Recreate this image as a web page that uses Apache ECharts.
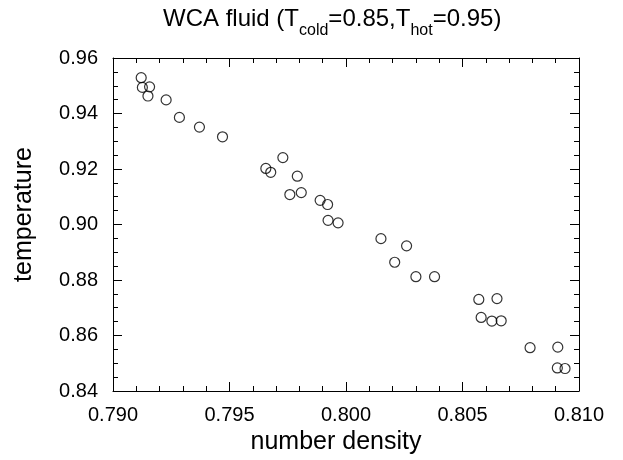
<!DOCTYPE html>
<html>
<head>
<meta charset="utf-8">
<script src="https://cdn.jsdelivr.net/npm/echarts@6/dist/echarts.min.js"></script>
<style>
html,body{margin:0;padding:0;background:#fff;}
#chart{width:623px;height:460px;}
</style>
</head>
<body>
<div id="chart"></div>
<script>
// number density (x) and temperature (y) of each point
const densityValues = [
  0.79121, 0.79126, 0.79157, 0.79150, 0.79228, 0.79285, 0.79371, 0.79470,
  0.79656, 0.79677, 0.79729, 0.79791, 0.79759, 0.79808, 0.79889, 0.79921,
  0.79923, 0.79966, 0.80150, 0.80260, 0.80209, 0.80300, 0.80380, 0.80570,
  0.80648, 0.80580, 0.80626, 0.80666, 0.80790, 0.80909, 0.80907, 0.80940
];
const temperatureValues = [
  0.9529, 0.9494, 0.9496, 0.9463, 0.9449, 0.9386, 0.9351, 0.9316,
  0.9202, 0.9188, 0.9241, 0.9174, 0.9108, 0.9115, 0.9087, 0.9072,
  0.9015, 0.9006, 0.8949, 0.8923, 0.8864, 0.8812, 0.8812, 0.8730,
  0.8733, 0.8665, 0.8652, 0.8653, 0.8556, 0.8558, 0.8483, 0.8481
];
const xTicks = [0.790, 0.795, 0.800, 0.805, 0.810];
const yTicks = [0.84, 0.86, 0.88, 0.90, 0.92, 0.94, 0.96];

const FONT = "'Liberation Sans', Arial, Helvetica, sans-serif";
const points = densityValues.map((x, i) => [x, temperatureValues[i]]);

const chart = echarts.init(document.getElementById('chart'), null, {renderer: 'canvas'});

function xAxisCfg(pos, labels) {
  return {
    type: 'value', position: pos,
    min: xTicks[0], max: xTicks[xTicks.length - 1], interval: 0.005,
    axisLine: {show: true, onZero: false, lineStyle: {color: '#000', width: 1}},
    axisTick: {show: true, inside: true, length: 9, lineStyle: {color: '#000'}},
    minorTick: {show: true, splitNumber: 5, length: 5, lineStyle: {color: '#000'}},
    splitLine: {show: false},
    axisLabel: {show: labels, margin: 14, color: '#000', fontSize: 20, fontFamily: FONT,
      formatter: v => v.toFixed(3)},
    name: labels ? 'number density' : '',
    nameLocation: 'middle', nameGap: 38,
    nameTextStyle: {color: '#000', fontSize: 25, fontFamily: FONT, padding: [0, 20, 0, 0]}
  };
}
function yAxisCfg(pos, labels) {
  return {
    type: 'value', position: pos,
    min: yTicks[0], max: yTicks[yTicks.length - 1], interval: 0.02,
    axisLine: {show: true, onZero: false, lineStyle: {color: '#000', width: 1}},
    axisTick: {show: true, inside: true, length: 9, lineStyle: {color: '#000'}},
    minorTick: {show: true, splitNumber: 4, length: 5, lineStyle: {color: '#000'}},
    splitLine: {show: false},
    axisLabel: {show: labels, margin: 15, color: '#000', fontSize: 20, fontFamily: FONT,
      formatter: v => v.toFixed(2)},
    name: labels ? 'temperature' : '',
    nameLocation: 'middle', nameGap: 76, nameRotate: 90,
    nameTextStyle: {color: '#000', fontSize: 25, fontFamily: FONT, padding: [0, 0, 0, 20]}
  };
}

chart.setOption({
  animation: false,
  backgroundColor: '#fff',
  title: {
    text: '{a|WCA fluid (T}{s|cold}{a|=0.85,T}{s|hot}{a|=0.95)}',
    left: 163, top: 15, padding: 0,
    textStyle: {
      fontWeight: 'normal',
      rich: {
        a: {fontSize: 24, fontWeight: 'normal', lineHeight: 24, padding: [0, 0, 8, 0], verticalAlign: 'bottom', color: '#000', fontFamily: FONT},
        s: {fontSize: 16, fontWeight: 'normal', lineHeight: 16, verticalAlign: 'bottom', color: '#000', fontFamily: FONT}
      }
    }
  },
  grid: {left: 113, right: 44, top: 58, bottom: 69, show: false},
  xAxis: [xAxisCfg('bottom', true), xAxisCfg('top', false)],
  yAxis: [yAxisCfg('left', true), yAxisCfg('right', false)],
  series: [{
    type: 'scatter',
    xAxisIndex: 0, yAxisIndex: 0,
    data: points,
    symbol: 'circle', symbolSize: 10,
    itemStyle: {color: 'rgba(255,255,255,0)', borderColor: '#000', borderWidth: 1.2},
    emphasis: {disabled: true}
  }]
});
</script>
</body>
</html>
